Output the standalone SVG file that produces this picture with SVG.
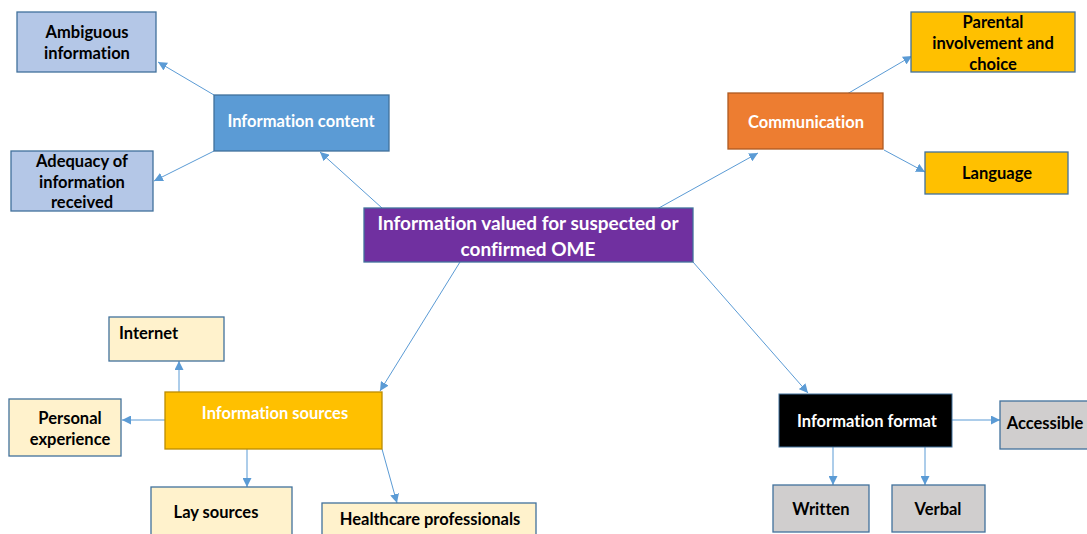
<svg xmlns="http://www.w3.org/2000/svg" width="1087" height="534" viewBox="0 0 1087 534">
  <style>
    text { font-family: Lato, "Liberation Sans", sans-serif; font-weight: 700; font-size: 16.5px; text-anchor: middle; font-variant-ligatures: none; }
    .dark { fill: #000000; }
    .light { fill: #ffffff; }
    .big { font-size: 19px; }
    .box { stroke: #41719C; stroke-width: 1.3; }
    .sub-blue { fill: #B4C7E7; }
    .sub-yellow { fill: #FFC000; }
    .sub-cream { fill: #FFF2CC; }
    .sub-gray { fill: #D0CECE; }
    .link { stroke: #5B9BD5; stroke-width: 1; fill: none; marker-end: url(#arrow); }
  </style>
  <defs>
    <marker id="arrow" viewBox="0 0 10 10" refX="10" refY="5" markerWidth="9" markerHeight="9" markerUnits="userSpaceOnUse" orient="auto">
      <path d="M0,0 L10,5 L0,10 Z" fill="#5B9BD5"/>
    </marker>
  </defs>

  <rect width="1087" height="534" fill="#ffffff"/>

  <!-- connectors -->
  <g id="connectors">
    <line class="link" x1="382" y1="208" x2="320" y2="152"/>
    <line class="link" x1="214" y1="95" x2="158" y2="62"/>
    <line class="link" x1="214" y1="151" x2="154" y2="181"/>
    <line class="link" x1="657" y1="209" x2="758" y2="153"/>
    <line class="link" x1="847" y1="94" x2="912" y2="56"/>
    <line class="link" x1="884" y1="150" x2="925" y2="172"/>
    <line class="link" x1="460" y1="262" x2="380" y2="391"/>
    <line class="link" x1="693" y1="262" x2="808" y2="393"/>
    <line class="link" x1="179" y1="392" x2="179" y2="361"/>
    <line class="link" x1="165" y1="420" x2="122" y2="420"/>
    <line class="link" x1="247" y1="449" x2="247" y2="487"/>
    <line class="link" x1="382" y1="449" x2="397" y2="503"/>
    <line class="link" x1="952" y1="420" x2="1000" y2="420"/>
    <line class="link" x1="833" y1="447" x2="833" y2="485"/>
    <line class="link" x1="925" y1="447" x2="925" y2="485"/>
  </g>

  <!-- central topic -->
  <g id="central">
    <rect x="364" y="208" width="329" height="54" fill="#7030A0" class="box"/>
    <text class="light big" x="528" y="230">Information valued for suspected or</text>
    <text class="light big" x="528" y="256">confirmed OME</text>
  </g>

  <!-- information content branch -->
  <g id="info-content">
    <rect x="214" y="95" width="175" height="56" fill="#5B9BD5" class="box"/>
    <text class="light" x="301" y="127">Information content</text>
  </g>
  <g id="ambiguous">
    <rect x="17" y="12" width="139" height="60" class="box sub-blue"/>
    <text class="dark" x="87" y="38">Ambiguous</text>
    <text class="dark" x="87" y="59">information</text>
  </g>
  <g id="adequacy">
    <rect x="11" y="151" width="142" height="60" class="box sub-blue"/>
    <text class="dark" x="82" y="167">Adequacy of</text>
    <text class="dark" x="82" y="188">information</text>
    <text class="dark" x="82" y="208">received</text>
  </g>

  <!-- communication branch -->
  <g id="communication">
    <rect x="728" y="93" width="155" height="56" fill="#ED7D31" stroke="#AE5A21" stroke-width="1.3"/>
    <text class="light" x="806" y="128">Communication</text>
  </g>
  <g id="parental">
    <rect x="911" y="12" width="164" height="60" class="box sub-yellow"/>
    <text class="dark" x="993" y="28">Parental</text>
    <text class="dark" x="993" y="49">involvement and</text>
    <text class="dark" x="993" y="70">choice</text>
  </g>
  <g id="language">
    <rect x="925" y="152" width="143" height="42" class="box sub-yellow"/>
    <text class="dark" x="997" y="179">Language</text>
  </g>

  <!-- information sources branch -->
  <g id="info-sources">
    <rect x="165" y="392" width="217" height="57" fill="#FFC000" stroke="#BC8C00" stroke-width="1.3"/>
    <text class="light" x="275" y="419">Information sources</text>
  </g>
  <g id="internet">
    <rect x="109" y="317" width="115" height="44" class="box sub-cream"/>
    <text class="dark" x="119" y="339" style="text-anchor:start">Internet</text>
  </g>
  <g id="personal">
    <rect x="9" y="399" width="112" height="57" class="box sub-cream"/>
    <text class="dark" x="70" y="424">Personal</text>
    <text class="dark" x="70" y="445">experience</text>
  </g>
  <g id="lay-sources">
    <rect x="151" y="487" width="141" height="52" class="box sub-cream"/>
    <text class="dark" x="216" y="518">Lay sources</text>
  </g>
  <g id="healthcare">
    <rect x="322" y="503" width="214" height="36" class="box sub-cream"/>
    <text class="dark" x="430" y="525">Healthcare professionals</text>
  </g>

  <!-- information format branch -->
  <g id="info-format">
    <rect x="779" y="394" width="173" height="53" fill="#000000" stroke="#41719C" stroke-width="1"/>
    <text class="light" x="867" y="427">Information format</text>
  </g>
  <g id="accessible">
    <rect x="1000" y="401" width="112" height="48" class="box sub-gray"/>
    <text class="dark" x="1045" y="429">Accessible</text>
  </g>
  <g id="written">
    <rect x="773" y="485" width="96" height="47" class="box sub-gray"/>
    <text class="dark" x="821" y="515">Written</text>
  </g>
  <g id="verbal">
    <rect x="892" y="485" width="93" height="47" class="box sub-gray"/>
    <text class="dark" x="938" y="515">Verbal</text>
  </g>
</svg>
